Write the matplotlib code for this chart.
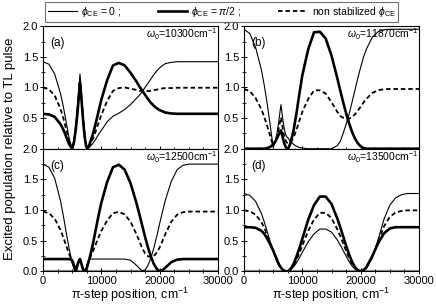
import matplotlib
matplotlib.use('Agg')
import matplotlib.pyplot as plt
from matplotlib.ticker import MultipleLocator

plt.rcParams['font.family'] = ['Liberation Sans', 'DejaVu Sans']
plt.rcParams['mathtext.fontset'] = 'custom'
plt.rcParams['mathtext.rm'] = 'Liberation Sans'
plt.rcParams['mathtext.it'] = 'Liberation Sans:italic'

# pi-step position, cm^-1 (shared by all panels)
pos = [0, 1000, 2000, 3000, 3500, 4000, 4500, 5000, 5300, 5600, 5900, 6100, 6340, 6600,
       6800, 7000, 7200, 7400, 7600, 7800, 8000, 8500, 9000, 9500, 10000, 11000, 12000,
       13000, 14000, 15000, 16000, 16500, 17000, 17500, 18000, 18500, 19000, 19500,
       20000, 20500, 21000, 22000, 23000, 24000, 25000, 26000, 27000, 28000, 30000]

panel_tags = ['(a)', '(b)', '(c)', '(d)']
omega0 = ['10300', '11870', '12500', '13500']

# (a) w0 = 10300
a_zero = [1.42, 1.38, 1.22, 0.90, 0.68, 0.42, 0.16, 0.0, 0.12, 0.35, 0.68, 0.92, 1.22, 0.90,
          0.62, 0.38, 0.18, 0.05, 0.0, 0.01, 0.03, 0.08, 0.15, 0.23, 0.30, 0.44, 0.53,
          0.58, 0.64, 0.72, 0.82, 0.87, 0.93, 1.0, 1.07, 1.14, 1.21, 1.27,
          1.32, 1.36, 1.39, 1.41, 1.42, 1.42, 1.42, 1.42, 1.42, 1.42, 1.42]
a_half = [0.57, 0.56, 0.52, 0.40, 0.31, 0.19, 0.07, 0.0, 0.10, 0.30, 0.58, 0.80, 1.08, 0.80,
          0.55, 0.33, 0.15, 0.04, 0.0, 0.03, 0.08, 0.22, 0.40, 0.60, 0.80, 1.12, 1.36,
          1.40, 1.36, 1.24, 1.10, 1.02, 0.95, 0.88, 0.81, 0.75, 0.70, 0.66,
          0.63, 0.61, 0.59, 0.575, 0.57, 0.57, 0.57, 0.57, 0.57, 0.57, 0.57]
a_rand = [1.0, 0.97, 0.87, 0.65, 0.495, 0.305, 0.115, 0.0, 0.11, 0.325, 0.63, 0.86, 1.15, 0.85,
          0.585, 0.355, 0.165, 0.045, 0.0, 0.02, 0.055, 0.15, 0.275, 0.415, 0.55, 0.78, 0.945,
          0.99, 1.0, 0.98, 0.96, 0.945, 0.94, 0.94, 0.94, 0.945, 0.955, 0.965,
          0.975, 0.985, 0.99, 0.99, 0.995, 0.995, 0.995, 0.995, 0.995, 0.995, 0.995]

# (b) w0 = 11870
b_zero = [1.95, 1.88, 1.65, 1.28, 1.02, 0.72, 0.38, 0.02, 0.10, 0.22, 0.40, 0.55, 0.72, 0.52,
          0.38, 0.28, 0.22, 0.19, 0.17, 0.14, 0.12, 0.07, 0.04, 0.02, 0.01, 0.0, 0.0,
          0.0, 0.0, 0.0, 0.05, 0.12, 0.25, 0.40, 0.56, 0.75, 0.95, 1.15,
          1.33, 1.50, 1.63, 1.82, 1.91, 1.94, 1.95, 1.95, 1.95, 1.95, 1.95]
b_half = [0.0, 0.0, 0.0, 0.0, 0.0, 0.01, 0.03, 0.07, 0.11, 0.16, 0.22, 0.26, 0.30, 0.20,
          0.12, 0.06, 0.02, 0.0, 0.01, 0.05, 0.10, 0.30, 0.58, 0.90, 1.20, 1.62, 1.90,
          1.91, 1.80, 1.52, 1.15, 0.95, 0.76, 0.58, 0.42, 0.28, 0.17, 0.09,
          0.04, 0.01, 0.0, 0.0, 0.0, 0.0, 0.0, 0.0, 0.0, 0.0, 0.0]
b_rand = [0.975, 0.94, 0.825, 0.64, 0.51, 0.365, 0.205, 0.045, 0.105, 0.19, 0.31, 0.405, 0.51, 0.36,
          0.25, 0.17, 0.12, 0.095, 0.09, 0.095, 0.11, 0.185, 0.31, 0.46, 0.605, 0.81, 0.95,
          0.955, 0.90, 0.76, 0.60, 0.535, 0.505, 0.49, 0.49, 0.515, 0.56, 0.62,
          0.685, 0.755, 0.815, 0.91, 0.955, 0.97, 0.975, 0.975, 0.975, 0.975, 0.975]

# (c) w0 = 12500
c_zero = [1.75, 1.70, 1.52, 1.15, 0.90, 0.62, 0.36, 0.14, 0.04, 0.0, 0.08, 0.14, 0.20, 0.12,
          0.05, 0.01, 0.0, 0.05, 0.12, 0.18, 0.20, 0.20, 0.20, 0.20, 0.20, 0.20, 0.20,
          0.20, 0.20, 0.18, 0.10, 0.05, 0.01, 0.02, 0.10, 0.22, 0.38, 0.57,
          0.78, 0.98, 1.17, 1.47, 1.66, 1.73, 1.75, 1.75, 1.75, 1.75, 1.75]
c_half = [0.20, 0.20, 0.20, 0.20, 0.20, 0.20, 0.20, 0.18, 0.10, 0.0, 0.10, 0.16, 0.20, 0.12,
          0.05, 0.01, 0.0, 0.03, 0.08, 0.15, 0.22, 0.42, 0.66, 0.90, 1.12, 1.46, 1.70,
          1.74, 1.66, 1.44, 1.12, 0.94, 0.75, 0.56, 0.39, 0.24, 0.12, 0.04,
          0.0, 0.02, 0.06, 0.15, 0.19, 0.20, 0.20, 0.20, 0.20, 0.20, 0.20]
c_rand = [0.975, 0.95, 0.86, 0.675, 0.55, 0.41, 0.28, 0.16, 0.07, 0.0, 0.09, 0.15, 0.20, 0.12,
          0.05, 0.01, 0.0, 0.04, 0.10, 0.165, 0.21, 0.31, 0.43, 0.55, 0.66, 0.83, 0.95,
          0.97, 0.93, 0.81, 0.61, 0.495, 0.38, 0.29, 0.245, 0.23, 0.25, 0.305,
          0.39, 0.50, 0.615, 0.81, 0.925, 0.965, 0.975, 0.975, 0.975, 0.975, 0.975]

# (d) w0 = 13500
d_zero = [1.27, 1.24, 1.14, 0.94, 0.80, 0.64, 0.48, 0.33, 0.25, 0.18, 0.11, 0.08, 0.05, 0.025,
          0.012, 0.004, 0.0, 0.0, 0.004, 0.012, 0.025, 0.07, 0.14, 0.22, 0.31, 0.48, 0.61,
          0.69, 0.69, 0.64, 0.51, 0.43, 0.34, 0.25, 0.16, 0.09, 0.04, 0.01,
          0.0, 0.01, 0.05, 0.22, 0.52, 0.85, 1.08, 1.20, 1.25, 1.27, 1.27]
d_half = [0.72, 0.72, 0.71, 0.66, 0.61, 0.53, 0.44, 0.34, 0.27, 0.20, 0.13, 0.095, 0.06, 0.03,
          0.015, 0.005, 0.0, 0.0, 0.006, 0.02, 0.04, 0.12, 0.24, 0.38, 0.53, 0.84, 1.08,
          1.22, 1.22, 1.10, 0.86, 0.72, 0.57, 0.42, 0.28, 0.16, 0.07, 0.02,
          0.0, 0.02, 0.07, 0.25, 0.46, 0.62, 0.70, 0.72, 0.72, 0.72, 0.72]
d_rand = [0.995, 0.98, 0.925, 0.80, 0.705, 0.585, 0.46, 0.335, 0.26, 0.19, 0.12, 0.09, 0.055, 0.028,
          0.014, 0.005, 0.0, 0.0, 0.005, 0.016, 0.032, 0.095, 0.19, 0.30, 0.42, 0.66, 0.845,
          0.955, 0.955, 0.87, 0.685, 0.575, 0.455, 0.335, 0.22, 0.125, 0.055, 0.015,
          0.0, 0.015, 0.06, 0.235, 0.49, 0.735, 0.89, 0.96, 0.985, 0.995, 0.995]

curves = [(a_zero, a_half, a_rand), (b_zero, b_half, b_rand),
          (c_zero, c_half, c_rand), (d_zero, d_half, d_rand)]

fig = plt.figure(figsize=(4.36, 3.04), dpi=100)
W, H = 436.0, 304.0
lefts = [43 / W, 244 / W]
bottoms = [1 - 148.7 / H, 1 - 271.3 / H]
aw = 175 / W
ah = 122.5 / H

axes = []
for i in range(4):
    row, col = i // 2, i % 2
    ax = fig.add_axes([lefts[col], bottoms[row], aw, ah])
    axes.append(ax)
    zero, half, rand = curves[i]
    if row == 1:
        ax.axhline(0, color='0.55', lw=1.6, zorder=1)
    l1, = ax.plot(pos, zero, color='black', lw=0.8, zorder=3)
    l2, = ax.plot(pos, half, color='black', lw=1.9, zorder=3)
    l3, = ax.plot(pos, rand, color='black', lw=1.3, ls=(0, (2.5, 1.6)), zorder=3)
    ax.set_xlim(0, 30000)
    ax.set_ylim(0, 2.0)
    ax.xaxis.set_major_locator(MultipleLocator(10000))
    ax.xaxis.set_minor_locator(MultipleLocator(2500))
    ax.yaxis.set_minor_locator(MultipleLocator(0.25))
    ax.set_yticks([0, 0.5, 1.0, 1.5, 2.0])
    if row == 0:
        ax.set_yticklabels(['', '0.5', '1.0', '1.5', '2.0'])
        ax.tick_params(labelbottom=False)
    else:
        ax.set_yticklabels(['0.0', '0.5', '1.0', '1.5', '2.0'])
        ax.set_xticks([0, 10000, 20000, 30000])
        ax.set_xticklabels(['0', '10000', '20000', '30000'])
        ax.set_xlabel('π-step position, cm$^{-1}$', fontsize=9, labelpad=0)
    ax.tick_params(which='both', direction='inout', labelsize=8, pad=1.5,
                   top=False, right=False)
    ax.tick_params(which='major', length=4, width=0.7)
    ax.tick_params(which='minor', length=3, width=0.6)
    for sp in ax.spines.values():
        sp.set_linewidth(0.8)
    ax.text(0.04, 0.86, panel_tags[i], transform=ax.transAxes, fontsize=8.5,
            ha='left', va='center')
    ax.text(0.995, 0.935, r'$\omega_0$=' + omega0[i] + r'cm$^{-1}$', transform=ax.transAxes,
            fontsize=7.5, ha='right', va='center')

fig.text(0.022, 0.51, 'Excited population relative to TL pulse', rotation=90,
         ha='center', va='center', fontsize=9.5)

labels = [r'$\phi_{\rm CE}$ = 0 ;', r'$\phi_{\rm CE}$ = $\pi/2$ ;',
          r'non stabilized $\phi_{\rm CE}$']
leg = fig.legend([l1, l2, l3], labels, loc='center', ncol=3, mode='expand',
                 bbox_to_anchor=(45 / W, 1 - 22 / H, 353 / W, 20 / H),
                 fontsize=7.5, handlelength=2.8, handletextpad=0.4, columnspacing=1.0,
                 fancybox=False, borderaxespad=0, borderpad=0.25)
leg.get_frame().set_edgecolor('0.3')
leg.get_frame().set_linewidth(0.8)

fig.savefig('out.png', dpi=100)
